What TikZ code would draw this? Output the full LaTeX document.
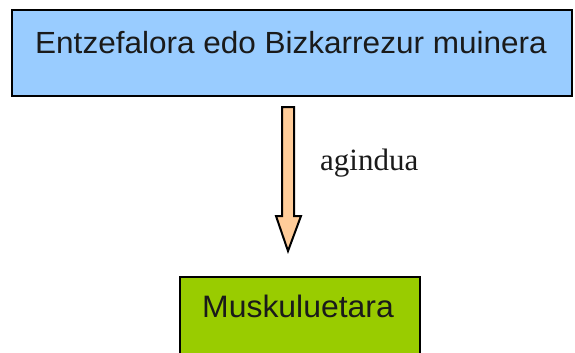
\documentclass[tikz,border=0pt]{standalone}
\usepackage{fontspec}
\setmainfont{Liberation Serif}
\setsansfont{Liberation Sans}[FakeStretch=1.03]
\definecolor{topblue}{HTML}{99CCFF}
\definecolor{botgreen}{HTML}{99CC00}
\definecolor{peach}{HTML}{FFCC99}
\definecolor{txt}{HTML}{1A1A1A}
\tikzset{
  boxstyle/.style={draw=black, line width=2pt, inner sep=0pt, outer sep=0pt},
  boxtext/.style={font=\sffamily\fontsize{31}{31}\selectfont, text=txt, anchor=base west, inner sep=0pt},
  arrowstyle/.style={draw=black, line width=2pt, fill=peach, line join=miter},
}
\begin{document}
\begin{tikzpicture}[x=1pt,y=-1pt]
\useasboundingbox (0,0) rectangle (575,353);
\clip (0,0) rectangle (575,353);
\path[boxstyle, fill=topblue] (12,10) rectangle (572,96);
\node[boxtext, font=\sffamily\fontsize{30.6}{31}\selectfont] (toptext) at (35,54) {Entzefalora edo Bizkarrezur muinera};
\path[boxstyle, fill=botgreen] (180,277) rectangle (420,370);
\node[boxtext] (bottext) at (202,317) {Muskuluetara};
\coordinate (a1) at (282,107);
\coordinate (a2) at (294,107);
\coordinate (a3) at (294,216);
\coordinate (a4) at (301,216);
\coordinate (tip) at (288,251);
\coordinate (a6) at (276,216);
\coordinate (a7) at (282,216);
\draw[arrowstyle] (a1) -- (a2) -- (a3) -- (a4) -- (tip) -- (a6) -- (a7) -- cycle;
\node[font=\fontsize{31}{31}\selectfont, text=txt, anchor=base west, inner sep=0pt] (lbl) at (320,170) {agindua};
\end{tikzpicture}
\end{document}
